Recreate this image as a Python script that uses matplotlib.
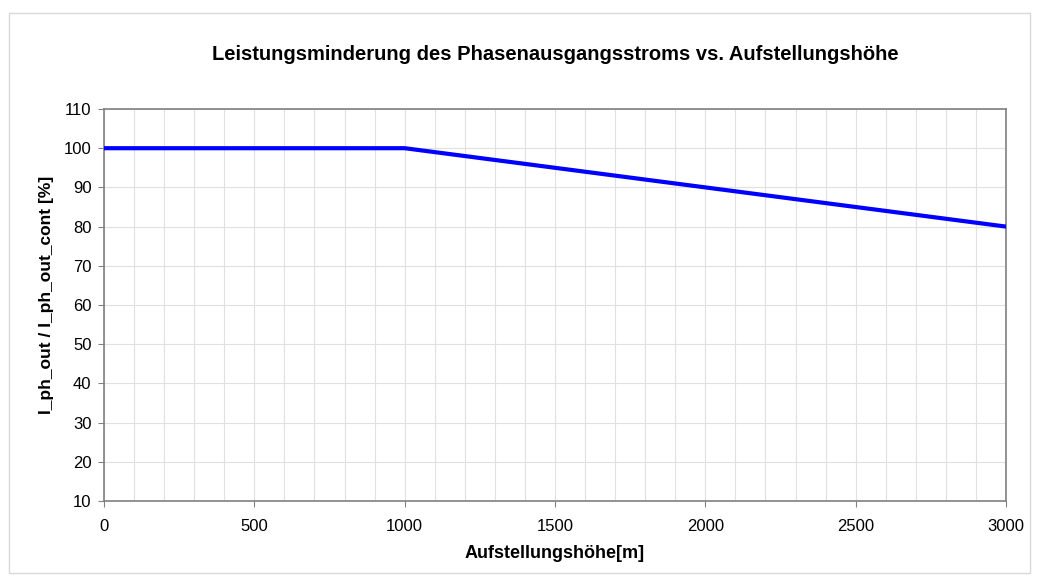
import matplotlib
matplotlib.use("Agg")
import matplotlib.pyplot as plt
from matplotlib.patches import Rectangle
from matplotlib.ticker import MultipleLocator

plt.rcParams['font.family'] = ['Liberation Sans', 'DejaVu Sans']

altitude = [0, 100, 200, 300, 400, 500, 600, 700, 800, 900, 1000,
            1100, 1200, 1300, 1400, 1500, 1600, 1700, 1800, 1900, 2000,
            2100, 2200, 2300, 2400, 2500, 2600, 2700, 2800, 2900, 3000]
derating = [100, 100, 100, 100, 100, 100, 100, 100, 100, 100, 100,
            99, 98, 97, 96, 95, 94, 93, 92, 91, 90,
            89, 88, 87, 86, 85, 84, 83, 82, 81, 80]

title = "Leistungsminderung des Phasenausgangsstroms vs. Aufstellungshöhe"
xlabel = "Aufstellungshöhe[m]"
ylabel = "I_ph_out / I_ph_out_cont [%]"

W, H = 1037, 581
fig = plt.figure(figsize=(W / 100, H / 100), dpi=100)
fig.patches.append(Rectangle((9 / W, 1 - 573 / H), (1030 - 9) / W, (573 - 13) / H,
                             transform=fig.transFigure, fill=False,
                             edgecolor='#d9d9d9', linewidth=1))

ax = fig.add_axes([104 / W, 1 - 501 / H, (1006 - 104) / W, (501 - 109) / H])
ax.plot(altitude, derating, color='#0000ff', linewidth=3, solid_joinstyle='round', zorder=3)
ax.set_xlim(0, 3000)
ax.set_ylim(10, 110)
ax.xaxis.set_major_locator(MultipleLocator(500))
ax.xaxis.set_minor_locator(MultipleLocator(100))
ax.yaxis.set_major_locator(MultipleLocator(10))
ax.grid(which='both', axis='x', color='#e0e0e0', linewidth=0.8)
ax.grid(which='major', axis='y', color='#e0e0e0', linewidth=0.8)
ax.set_axisbelow(True)
ax.tick_params(which='minor', length=0)
ax.tick_params(which='major', length=4, color='#808080', labelsize=12, colors='black')
ax.tick_params(axis='x', pad=9)
ax.tick_params(axis='y', pad=5)
for s in ax.spines.values():
    s.set_color('#808080')
    s.set_linewidth(1.2)

fig.text(555 / W, 1 - 55 / H, title, ha='center', va='center', fontsize=14.5, fontweight='bold')
fig.text(555 / W, 1 - 553 / H, xlabel, ha='center', va='center', fontsize=13, fontweight='bold')
fig.text(47 / W, 1 - 295 / H, ylabel, ha='center', va='center', fontsize=12.5, fontweight='bold', rotation=90)

fig.savefig("out.png", dpi=100)
